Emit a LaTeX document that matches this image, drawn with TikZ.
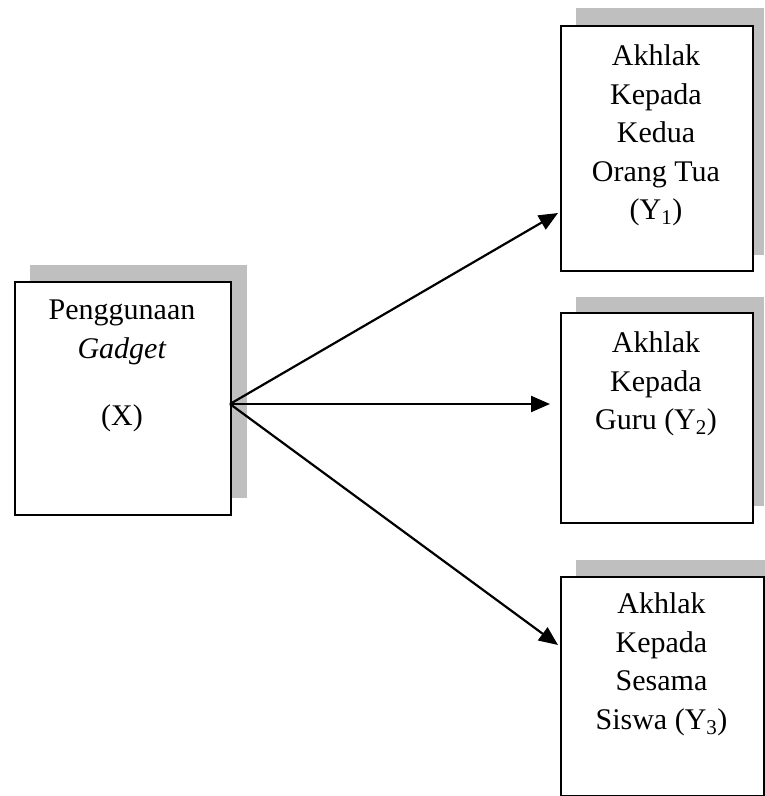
\documentclass[tikz,border=0pt]{standalone}
\usepackage{fontspec}
\setmainfont{Liberation Serif}
\usetikzlibrary{arrows.meta}
\begin{document}
\begin{tikzpicture}[x=1pt,y=-1pt,
  shade/.style={fill=black!25, draw=none},
  box/.style={draw, line width=2.2pt, fill=white, rectangle, inner sep=0pt, anchor=north west},
  txt/.style={align=center, inner sep=0pt, font=\fontsize{30}{38.5}\selectfont, anchor=north},
  arr/.style={line width=2.2pt, -{Triangle[length=19pt,width=16pt]}}]
\useasboundingbox (0,0) rectangle (765,796);
\clip (0,0) rectangle (765,796);
% shadows
\fill[shade] (30,265) rectangle (247,498);
\fill[shade] (576,8) rectangle (764,255);
\fill[shade] (576,297) rectangle (764,506);
\fill[shade] (576,560) rectangle (790,820);
% boxes
\node[box, minimum width=216, minimum height=233] (X) at (14,281) {};
\node[box, minimum width=192, minimum height=245] (Y1) at (560,25) {};
\node[box, minimum width=192, minimum height=210] (Y2) at (560,312) {};
\node[box, minimum width=203, minimum height=219] (Y3) at (560,576) {};
% texts
\node[txt] (tX) at (122,300) {Penggunaan\\ \textit{Gadget}\\[29pt] (X)};
\node[txt] (tY1) at (656,44.5) {Akhlak\\ Kepada\\ Kedua\\ Orang Tua\\ (Y\textsubscript{1})};
\node[txt] (tY2) at (656,331.5) {Akhlak\\ Kepada\\ Guru (Y\textsubscript{2})};
\node[txt] (tY3) at (661.5,592.5) {Akhlak\\ Kepada\\ Sesama\\ Siswa (Y\textsubscript{3})};
% connectors
\coordinate (src) at (230,404);
\coordinate (t1) at (558,213);
\coordinate (t2) at (550,404);
\coordinate (t3) at (558,645);
\draw[arr] (src) -- (t1);
\draw[arr] (src) -- (t2);
\draw[arr] (src) -- (t3);
\end{tikzpicture}
\end{document}
